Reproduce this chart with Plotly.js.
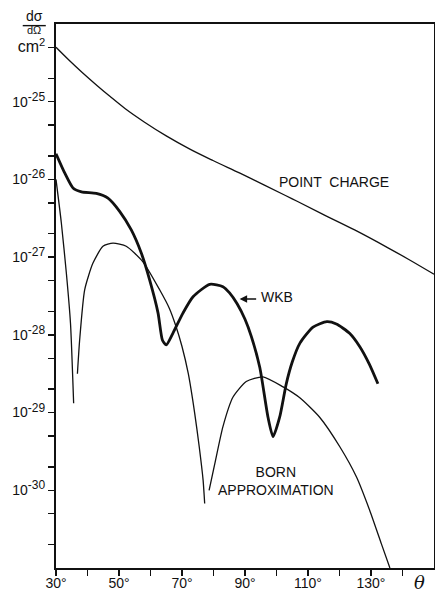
<!DOCTYPE html>
<html>
<head>
<meta charset="utf-8">
<script src="https://cdn.plot.ly/plotly-3.0.1.min.js"></script>
<style>html,body{margin:0;padding:0;background:#fff;}#chart{width:435px;height:592px;}</style>
</head>
<body>
<div id="chart"></div>
<script>
// Scattering angle (degrees) and log10 of dσ/dΩ (cm²)
const pointTheta = [30, 34, 38.5, 43, 47.1, 52, 58, 65, 72.5, 80, 88.4, 96, 105, 114.3, 124.8, 135.4, 142, 150];
const pointLog   = [-24.30, -24.46, -24.63, -24.79, -24.93, -25.09, -25.26, -25.44, -25.61, -25.76, -25.92, -26.07, -26.25, -26.44, -26.65, -26.88, -27.03, -27.22];

const wkbTheta = [30, 32.8, 35.4, 38.1, 42.8, 46.5, 50.2, 53.9, 57.1, 59.7, 62.4, 63.8, 65.0, 67.1, 70.3, 73.5, 78.8, 83.0, 85.1, 87.5, 90.0, 92.0, 94.7, 97.3, 98.9, 101.0, 103.1, 105.0, 107.4, 111.6, 116.0, 119.0, 123.2, 126.4, 129.5, 132.2];
const wkbLog   = [-25.67, -25.92, -26.11, -26.16, -26.18, -26.24, -26.41, -26.65, -26.95, -27.29, -27.72, -28.07, -28.13, -27.98, -27.72, -27.51, -27.35, -27.38, -27.46, -27.60, -27.80, -28.02, -28.42, -29.06, -29.31, -29.06, -28.63, -28.35, -28.11, -27.90, -27.83, -27.86, -27.98, -28.15, -28.38, -28.63];

const bornTheta = [30, 31.7, 33.3, 34.6, 35.6, null, 36.8, 37.5, 39.1, 41.7, 44.9, 48.1, 52.3, 57.6, 62.9, 66.0, 68.0, 70.0, 72.0, 74.0, 75.5, 76.7, 77.2, null, 78.6, 80.4, 83.0, 86.2, 90.4, 95.7, 102.1, 107.4, 113.7, 120.1, 125.4, 129.6, 133.3, 136.0];
const bornLog   = [-26.00, -26.56, -27.21, -27.85, -28.88, null, -28.50, -28.07, -27.42, -27.08, -26.86, -26.82, -26.86, -27.06, -27.42, -27.66, -27.88, -28.15, -28.50, -29.00, -29.45, -29.87, -30.17, null, -30.00, -29.66, -29.18, -28.80, -28.60, -28.54, -28.67, -28.81, -29.06, -29.44, -29.83, -30.26, -30.69, -31.00];

const xTickVals = [30, 40, 50, 60, 70, 80, 90, 100, 110, 120, 130, 140];
const xTickText = ['30°', '', '50°', '', '70°', '', '90°', '', '110°', '', '130°', ''];

const yTickVals = [5e-25, 2e-25, 1e-25, 5e-26, 2e-26, 1e-26, 5e-27, 2e-27, 1e-27, 5e-28, 2e-28, 1e-28, 5e-29, 2e-29, 1e-29, 5e-30, 2e-30, 1e-30, 5e-31, 2e-31];
const supStyle = 'font-size:12px';
const yTickText = ['<span style="font-size:16px">cm<sup>2</sup></span>', ' ',
  '10<sup><span style="' + supStyle + '">-25</span></sup>', ' ', ' ',
  '10<sup><span style="' + supStyle + '">-26</span></sup>', ' ', ' ',
  '10<sup><span style="' + supStyle + '">-27</span></sup>', ' ', ' ',
  '10<sup><span style="' + supStyle + '">-28</span></sup>', ' ', ' ',
  '10<sup><span style="' + supStyle + '">-29</span></sup>', ' ', ' ',
  '10<sup><span style="' + supStyle + '">-30</span></sup>', ' ', ' '];

const toVal = a => a.map(v => (v === null ? null : Math.pow(10, v)));

const ink = '#111';
const FONT = 'Liberation Sans, Arial, sans-serif';

const traces = [
  {x: pointTheta, y: toVal(pointLog), mode: 'lines', line: {color: ink, width: 1.3, shape: 'spline', smoothing: 1}},
  {x: bornTheta, y: toVal(bornLog), mode: 'lines', connectgaps: false, line: {color: ink, width: 1.3, shape: 'spline', smoothing: 0.6}},
  {x: wkbTheta, y: toVal(wkbLog), mode: 'lines', line: {color: ink, width: 2.8, shape: 'spline', smoothing: 0.6}}
];

const layout = {
  width: 435, height: 592,
  margin: {l: 56, r: 1, t: 24, b: 24},
  paper_bgcolor: '#fff', plot_bgcolor: '#fff',
  showlegend: false,
  font: {family: FONT, color: ink, size: 14},
  xaxis: {
    range: [30, 150], showgrid: false, zeroline: false,
    showline: true, mirror: true, linecolor: ink, linewidth: 1.6,
    ticks: 'outside', ticklen: 6, tickwidth: 1.4, tickcolor: ink,
    tickmode: 'array', tickvals: xTickVals, ticktext: xTickText,
    ticklabelstandoff: -4,
    tickfont: {size: 14, family: FONT, color: ink}
  },
  yaxis: {
    type: 'log', range: [-31, -24], showgrid: false, zeroline: false,
    showline: true, mirror: true, linecolor: ink, linewidth: 2,
    ticks: 'outside', ticklen: 6, tickwidth: 1.4, tickcolor: ink,
    tickmode: 'array', tickvals: yTickVals, ticktext: yTickText,
    tickfont: {size: 14, family: FONT, color: ink}
  },
  shapes: [
    {type: 'line', xref: 'paper', yref: 'paper', x0: -0.088, x1: -0.027, y0: 0.997, y1: 0.997, line: {color: ink, width: 1.4}}
  ],
  annotations: [
    {xref: 'paper', yref: 'paper', x: -0.058, y: 0.997, yanchor: 'bottom', xanchor: 'center', showarrow: false, text: 'dσ', font: {size: 14, family: FONT, color: ink}},
    {xref: 'paper', yref: 'paper', x: -0.058, y: 1.001, yanchor: 'top', xanchor: 'center', showarrow: false, borderpad: 0, text: 'dΩ', font: {size: 11, family: FONT, color: ink}},
    {x: 118.2, y: -26.03, showarrow: false, text: 'POINT  CHARGE', font: {size: 14, family: FONT, color: ink}},
    {x: 94.3, y: -27.51, xanchor: 'left', showarrow: false, text: 'WKB', font: {size: 14, family: FONT, color: ink}},
    {x: 88.3, y: -27.54, ax: 18, ay: 0, showarrow: true, arrowhead: 2, arrowsize: 1, arrowwidth: 1.5, arrowcolor: ink, text: ''},
    {x: 99.7, y: -29.88, showarrow: false, text: 'BORN<br>APPROXIMATION', align: 'center', font: {size: 14, family: FONT, color: ink}},
    {x: 145.5, xref: 'x', yref: 'paper', y: -0.026, yanchor: 'middle', showarrow: false, text: '<i>θ</i>', font: {size: 18, family: 'DejaVu Serif, serif', color: ink}}
  ]
};

Plotly.newPlot('chart', traces, layout, {staticPlot: true, displayModeBar: false});
</script>
</body>
</html>
